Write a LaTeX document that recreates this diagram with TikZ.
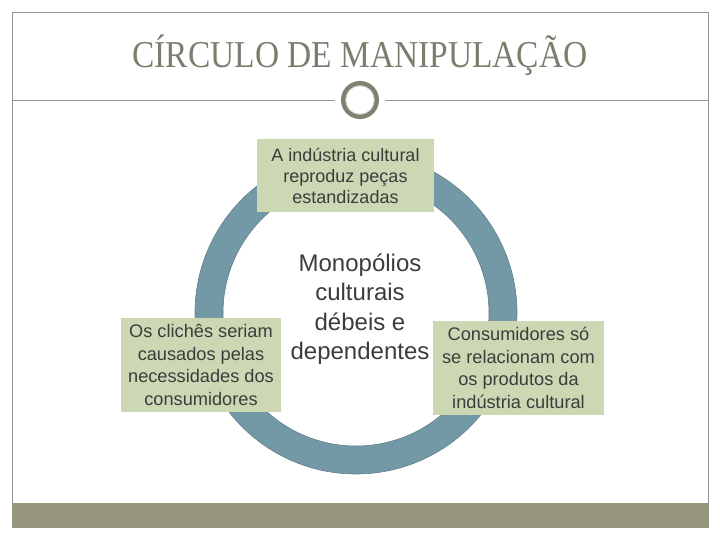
\documentclass[tikz,border=0pt]{standalone}
\usepackage{fontspec}
\setmainfont{Liberation Serif}
\newfontfamily\arial{Liberation Sans}
\definecolor{frameC}{RGB}{150,150,138}
\definecolor{barC}{RGB}{150,150,125}
\definecolor{titleC}{RGB}{125,125,110}
\definecolor{ringC}{RGB}{116,153,166}
\definecolor{ringE}{RGB}{95,128,140}
\definecolor{boxC}{RGB}{204,216,180}
\definecolor{txtC}{RGB}{60,60,60}
\definecolor{ornC}{RGB}{128,128,112}
\tikzset{
  sbox/.style={fill=boxC, draw=none, inner sep=0pt, align=center, text=txtC,
    font=\arial\fontsize{18.2}{22.5}\selectfont},
}
\begin{document}
\begin{tikzpicture}[x=1pt,y=-1pt]
\useasboundingbox (0,0) rectangle (720,540);
% frame
\draw[frameC, line width=0.8pt] (12,12) rectangle (708,527);
\fill[barC] (12,503) rectangle (708,527);
% title
\node[text=titleC, font=\fontsize{38}{40}\selectfont] (title) at (360,55) {\scalebox{0.88}[1]{CÍRCULO DE MANIPULAÇÃO}};
% divider
\coordinate (l0) at (12,100);
\coordinate (l1) at (335,100);
\coordinate (r0) at (385,100);
\coordinate (r1) at (708,100);
\draw[frameC, line width=0.9pt] (l0) -- (l1);
\draw[frameC, line width=0.9pt] (r0) -- (r1);
\node[circle, draw=ornC, line width=5pt, minimum size=33pt, inner sep=0pt] (orn) at (360,100) {};
\draw[white!70!ornC, line width=0.6pt] (360,100) circle (14.3);
% ring
\fill[ringC, even odd rule, draw=ringE, line width=0.6pt] (356,313) circle (161) (356,313) circle (133);
% boxes
\node[sbox, minimum width=177pt, minimum height=73pt, font=\arial\fontsize{18}{21}\selectfont] (top) at (345.5,176) {A indústria cultural\\reproduz peças\\estandizadas};
\node[sbox, minimum width=160pt, minimum height=94pt] (left) at (201,365) {Os clichês seriam\\causados pelas\\necessidades dos\\consumidores};
\node[sbox, minimum width=171pt, minimum height=94pt] (right) at (518.5,368) {Consumidores só\\se relacionam com\\os produtos da\\indústria cultural};
\node[align=center, text=txtC, font=\arial\fontsize{24}{29.5}\selectfont] (mid) at (360,309) {Monopólios\\culturais\\débeis e\\dependentes};
\end{tikzpicture}
\end{document}
